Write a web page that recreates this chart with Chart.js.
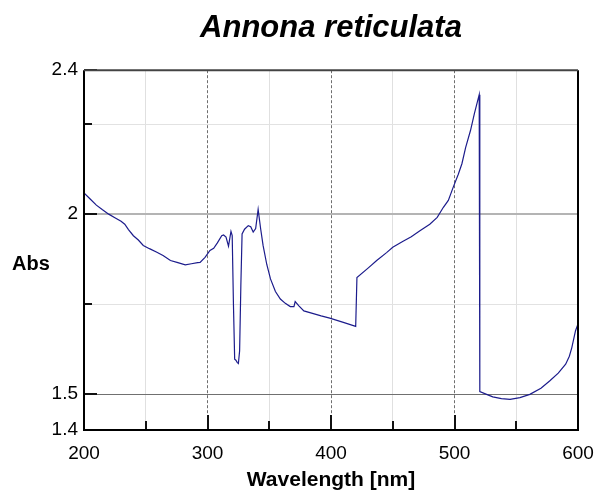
<!DOCTYPE html>
<html>
<head>
<meta charset="utf-8">
<script src="https://cdn.jsdelivr.net/npm/chart.js@4.4.0/dist/chart.umd.min.js"></script>
<style>
  html, body { margin: 0; padding: 0; background: #fff; }
  #wrap { width: 595px; height: 493px; }
</style>
</head>
<body>
<div id="wrap"><canvas id="myChart" width="595" height="493"></canvas></div>
<script>
// spectrum
let wavelength = [
  200, 205, 210, 215, 220, 225, 230, 233, 236, 240, 244, 248, 253, 259, 264, 270, 276, 282, 287, 292,
  294, 298, 302, 305, 308, 311.5, 313, 315, 317, 319, 320, 321, 322, 323, 324, 325, 326, 327, 328, 330,
  333, 335, 337, 339, 341, 343, 345, 348, 351, 355, 359, 363, 367, 370, 371, 374, 378, 385, 392, 399,
  410, 420, 421, 430, 437, 445, 450, 458, 465, 472, 480, 486, 491, 495, 499, 503, 506, 509, 513, 516,
  520, 520.5, 526, 531, 538, 545, 553, 561, 570, 577, 584, 590, 593, 595, 598, 600
];
let absorbance = [
  2.059, 2.042, 2.025, 2.012, 2.000, 1.990, 1.980, 1.972, 1.957, 1.940, 1.928, 1.913, 1.904, 1.894, 1.885, 1.871, 1.865, 1.859, 1.862, 1.865,
  1.866, 1.880, 1.899, 1.905, 1.920, 1.940, 1.942, 1.936, 1.911, 1.952, 1.940, 1.750, 1.597, 1.594, 1.588, 1.585, 1.620, 1.800, 1.945, 1.958,
  1.968, 1.965, 1.950, 1.960, 2.013, 1.960, 1.913, 1.860, 1.820, 1.785, 1.764, 1.752, 1.743, 1.743, 1.757, 1.745, 1.731, 1.724, 1.717, 1.711,
  1.699, 1.688, 1.824, 1.850, 1.871, 1.893, 1.908, 1.924, 1.937, 1.954, 1.972, 1.991, 2.019, 2.038, 2.075, 2.110, 2.140, 2.185, 2.233, 2.278,
  2.332, 1.507, 1.499, 1.492, 1.487, 1.485, 1.490, 1.499, 1.516, 1.536, 1.558, 1.583, 1.605, 1.629, 1.676, 1.695
];
let yTicks = [1.4, 1.5, 1.75, 2, 2.25, 2.4];
let yLabeled = [1.4, 1.5, 2, 2.4];
let xMajor = [300, 400, 500];

const fontFamily = "'Liberation Sans', Arial, sans-serif";

// frame, inner tick marks and the "Abs" label
const framePlugin = {
  id: "frame",
  afterDraw(chart) {
    const c = chart.ctx;
    const a = chart.chartArea;
    const xs = chart.scales.x;
    const ys = chart.scales.y;
    c.save();
    c.strokeStyle = "#111";
    c.lineWidth = 2;
    for (let v = 250; v < 600; v += 50) {
      const px = Math.round(xs.getPixelForValue(v));
      const len = xMajor.includes(v) ? 15 : 9;
      c.beginPath();
      c.moveTo(px, a.bottom);
      c.lineTo(px, a.bottom - len);
      c.stroke();
    }
    for (let i = 0; i < yTicks.length; i++) {
      const v = yTicks[i];
      if (v === 1.4) continue;
      const py = Math.round(ys.getPixelForValue(v));
      const len = yLabeled.includes(v) ? 13 : 8;
      c.beginPath();
      c.moveTo(a.left, py);
      c.lineTo(a.left + len, py);
      c.stroke();
    }
    c.strokeStyle = "#000";
    c.lineWidth = 2;
    c.beginPath();
    c.moveTo(a.left, a.top);
    c.lineTo(a.left, a.bottom);
    c.lineTo(a.right, a.bottom);
    c.lineTo(a.right, a.top);
    c.stroke();
    c.strokeStyle = "#444";
    c.beginPath();
    c.moveTo(a.left, a.top);
    c.lineTo(a.right, a.top);
    c.stroke();

    c.fillStyle = "#000";
    c.font = "bold 20px " + fontFamily;
    c.textAlign = "left";
    c.textBaseline = "middle";
    c.fillText("Abs", 12, 264);
    c.restore();
  }
};

const ctx = document.getElementById("myChart");
new Chart(ctx, {
  type: "line",
  data: {
    datasets: [
      {
        label: "Annona reticulata",
        data: wavelength.map((w, i) => ({ x: w, y: absorbance[i] })),
        borderColor: "#1c1c8c",
        borderWidth: 1.2,
        pointRadius: 0,
        tension: 0,
        fill: false,
      },
    ],
  },
  options: {
    responsive: false,
    animation: false,
    layout: { padding: { left: 0, right: 17, top: 0, bottom: 0 } },
    plugins: {
      legend: { display: false },
      tooltip: { enabled: false },
      title: {
        display: true,
        text: "Annona reticulata",
        color: "#000",
        font: { family: fontFamily, size: 31, weight: "bold", style: "italic", lineHeight: 1.2 },
        padding: { top: 10, bottom: 23 },
        fullSize: false,
      },
    },
    scales: {
      x: {
        type: "linear",
        min: 200,
        max: 600,
        afterFit(scale) {
          scale.height = 63;
          scale.paddingLeft = 0;
          scale.paddingRight = 0;
        },
        ticks: {
          stepSize: 50,
          padding: 12,
          color: "#000",
          maxRotation: 0,
          font: { family: fontFamily, size: 19 },
          callback: (v) => (v % 100 === 0 ? String(v) : ""),
        },
        grid: {
          drawTicks: false,
          color: (c) => {
            const v = c.tick ? c.tick.value : 0;
            if (v === 200 || v === 600) return "rgba(0,0,0,0)";
            return xMajor.includes(v) ? "#6e6e6e" : "#e0e0e0";
          },
          lineWidth: 1,
        },
        border: {
          display: false,
          dash: (c) => (c.tick && xMajor.includes(c.tick.value) ? [3, 2] : []),
        },
        title: {
          display: true,
          text: "Wavelength [nm]",
          color: "#000",
          font: { family: fontFamily, size: 21, weight: "bold", lineHeight: 1.2 },
          padding: { top: 2, bottom: 0 },
        },
      },
      y: {
        min: 1.4,
        max: 2.4,
        afterFit(scale) { scale.width = 84; },
        afterBuildTicks(scale) {
          scale.ticks = yTicks.map((v) => ({ value: v }));
        },
        ticks: {
          padding: 6,
          color: "#000",
          font: { family: fontFamily, size: 19 },
          callback: (v) => (yLabeled.includes(v) ? String(v) : ""),
        },
        grid: {
          drawTicks: false,
          color: (c) => {
            const v = c.tick ? c.tick.value : 0;
            if (v === 1.4 || v === 2.4) return "rgba(0,0,0,0)";
            if (v === 2) return "#b4b4b4";
            if (v === 1.5) return "#707070";
            return "#e2e2e2";
          },
          lineWidth: (c) => (c.tick && c.tick.value === 2 ? 2 : 1),
        },
        border: { display: false },
      },
    },
  },
  plugins: [framePlugin],
});
</script>
</body>
</html>
